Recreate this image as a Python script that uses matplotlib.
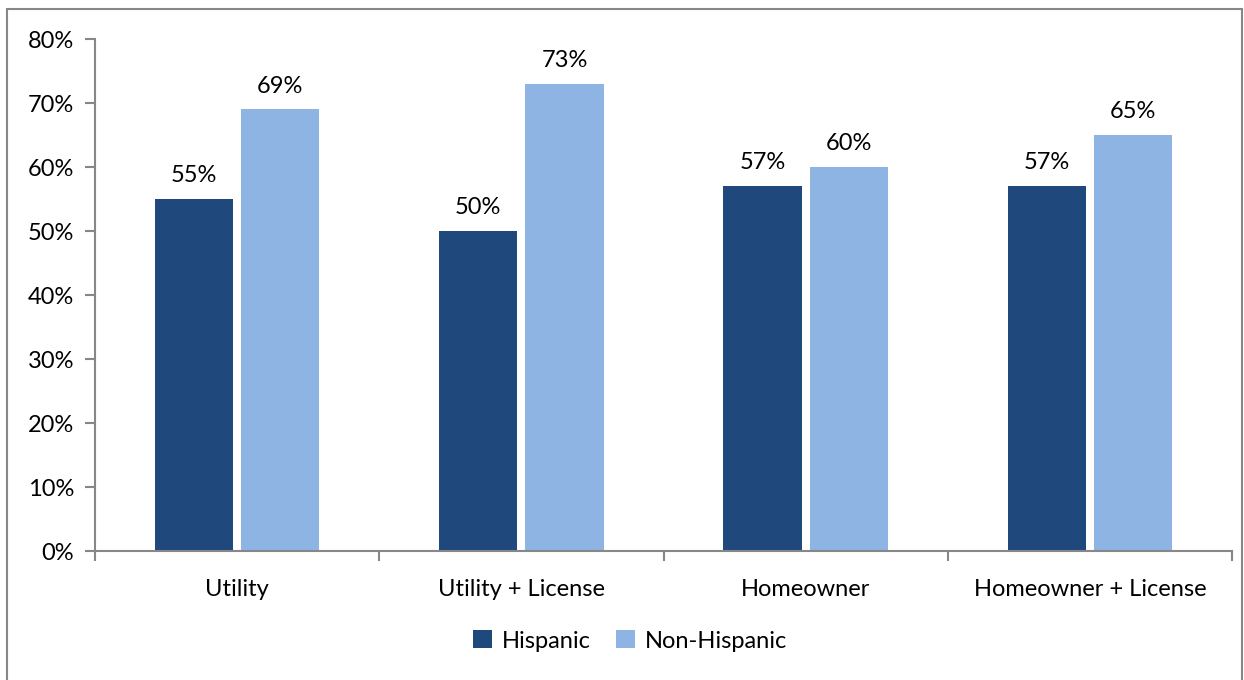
import matplotlib.pyplot as plt
import numpy as np
from matplotlib.patches import Rectangle

plt.rcParams['font.family'] = ['Lato', 'DejaVu Sans']

categories = ['Utility', 'Utility + License', 'Homeowner', 'Homeowner + License']
hispanic = [55, 50, 57, 57]
non_hispanic = [69, 73, 60, 65]
series_names = ['Hispanic', 'Non-Hispanic']
yticks = [0, 10, 20, 30, 40, 50, 60, 70, 80]

dark = '#1F497D'
light = '#8EB4E3'
grey = '#878787'
fs = 17

W, H = 1244, 680
fig = plt.figure(figsize=(W / 100, H / 100), dpi=100)
ax = fig.add_axes([95 / W, 1 - 551 / H, (1232 - 95) / W, (551 - 39) / H])

# outer frame of the chart area
fig.patches.append(Rectangle((7 / W, -0.05), (1242 - 7) / W, 1.05 - 9 / H,
                             transform=fig.transFigure, fill=False,
                             edgecolor=grey, linewidth=1.5))

x = np.arange(len(categories))
bw = 0.275
gap = 0.028
b1 = ax.bar(x - (bw + gap) / 2, hispanic, bw, color=dark, label=series_names[0])
b2 = ax.bar(x + (bw + gap) / 2, non_hispanic, bw, color=light, label=series_names[1])

for bars, vals in ((b1, hispanic), (b2, non_hispanic)):
    for r, v in zip(bars, vals):
        ax.text(r.get_x() + r.get_width() / 2, v + 2.0, f'{v}%',
                ha='center', va='bottom', fontsize=fs, color='black')

ax.set_xlim(-0.5, len(categories) - 0.5)
ax.set_ylim(0, 80)
ax.set_yticks(yticks)
ax.set_yticklabels([f'{t}%' for t in yticks], fontsize=fs)
ax.set_xticks(x)
ax.set_xticklabels(categories, fontsize=fs)
ax.tick_params(axis='x', length=0, pad=20)
ax.tick_params(axis='y', length=7, width=1.5, color=grey, pad=8)
# category separator ticks along the x axis
ax.set_xticks(np.arange(-0.5, len(categories)), minor=True)
ax.tick_params(axis='x', which='minor', length=7, width=1.5, color=grey, direction='out')

for s in ('top', 'right'):
    ax.spines[s].set_visible(False)
for s in ('left', 'bottom'):
    ax.spines[s].set_color(grey)
    ax.spines[s].set_linewidth(1.5)

fig.legend(handles=[b1, b2], labels=series_names, loc='center',
           bbox_to_anchor=(630 / W, 1 - 641 / H), ncol=2, frameon=False,
           fontsize=fs, handlelength=0.8, handleheight=0.8,
           handletextpad=0.4, columnspacing=1.1)

fig.savefig('out.png', dpi=100)
